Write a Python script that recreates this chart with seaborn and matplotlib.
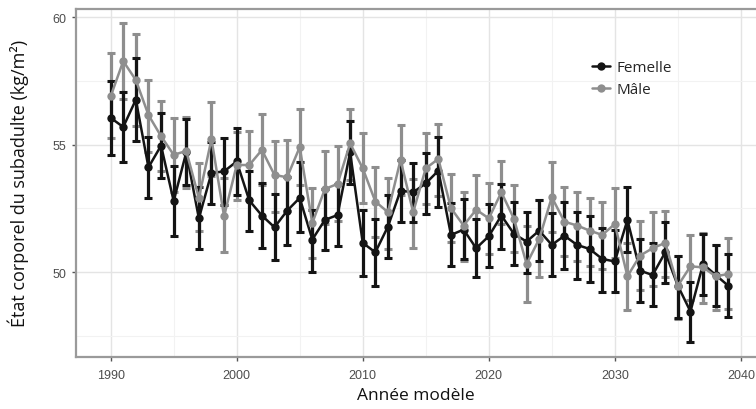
import numpy as np
import pandas as pd
import seaborn as sns
from matplotlib import pyplot as plt
from matplotlib.ticker import MultipleLocator

annees = list(range(1990, 2040))

femelle_moy = [56.05, 55.69, 56.76, 54.11, 54.96, 52.79, 54.70, 52.11, 53.89, 53.95,
               54.34, 52.81, 52.22, 51.76, 52.41, 52.91, 51.28, 52.05, 52.24, 54.70,
               51.15, 50.78, 51.79, 53.20, 53.13, 53.48, 53.98, 51.46, 51.67, 50.94,
               51.41, 52.22, 51.50, 51.20, 51.63, 51.07, 51.43, 51.07, 50.91, 50.52,
               50.42, 52.05, 50.06, 49.89, 50.78, 49.47, 48.46, 50.32, 49.89, 49.47]
femelle_bas = [54.60, 54.32, 55.13, 52.90, 53.69, 51.41, 53.40, 50.91, 52.67, 52.64,
               53.04, 51.60, 50.95, 50.48, 51.07, 51.56, 50.00, 50.87, 51.02, 53.46,
               49.87, 49.47, 50.55, 51.98, 51.96, 52.28, 52.57, 50.23, 50.50, 49.80,
               50.19, 50.91, 50.30, 49.97, 50.45, 49.84, 50.13, 49.74, 49.60, 49.24,
               49.24, 50.78, 48.82, 48.67, 49.57, 48.22, 47.28, 49.11, 48.69, 48.23]
femelle_haut = [57.48, 57.06, 58.39, 55.29, 56.23, 54.18, 56.00, 53.33, 55.12, 55.24,
                55.67, 53.98, 53.48, 53.07, 53.72, 54.31, 52.45, 53.26, 53.46, 55.94,
                52.44, 52.09, 53.04, 54.40, 54.28, 54.66, 55.29, 52.71, 52.87, 52.09,
                52.68, 53.46, 52.74, 52.37, 52.81, 52.32, 52.77, 52.35, 52.19, 51.72,
                51.67, 53.33, 51.30, 51.15, 51.98, 50.62, 49.60, 51.50, 51.07, 50.72]

male_moy = [56.89, 58.27, 57.53, 56.16, 55.33, 54.60, 54.75, 52.91, 55.22, 52.19,
            54.20, 54.20, 54.79, 53.81, 53.72, 54.90, 51.93, 53.26, 53.46, 55.05,
            54.07, 52.77, 52.35, 54.40, 52.35, 54.07, 54.44, 52.51, 51.83, 52.45,
            52.11, 53.13, 52.09, 50.32, 51.30, 52.94, 51.98, 51.83, 51.63, 51.46,
            51.89, 49.84, 50.65, 50.94, 51.15, 49.47, 50.23, 50.19, 49.84, 49.93]
male_bas = [55.26, 56.79, 55.71, 54.70, 53.98, 53.13, 53.30, 51.60, 53.76, 50.80,
            52.84, 52.81, 53.40, 52.37, 52.41, 53.40, 50.55, 51.90, 52.02, 53.60,
            52.70, 51.37, 50.91, 53.04, 50.94, 52.68, 53.00, 51.17, 50.45, 51.07,
            50.72, 51.89, 50.78, 48.85, 49.83, 51.56, 50.62, 50.42, 50.26, 50.13,
            50.55, 48.53, 49.32, 49.47, 49.80, 48.17, 48.91, 48.80, 48.53, 48.56]
male_haut = [58.58, 59.75, 59.35, 57.53, 56.70, 56.04, 56.10, 54.28, 56.68, 53.70,
             55.50, 55.52, 56.18, 55.16, 55.20, 56.40, 53.29, 54.74, 54.93, 56.40,
             55.44, 54.14, 53.69, 55.77, 53.65, 55.46, 55.81, 53.85, 53.16, 53.79,
             53.48, 54.37, 53.43, 51.80, 52.81, 54.33, 53.33, 53.16, 52.90, 52.77,
             53.30, 51.15, 52.00, 52.35, 52.41, 50.62, 51.46, 51.54, 51.07, 51.33]

couleurs = {"Femelle": "#141414", "Mâle": "#8e8e8e"}

df = pd.concat([
    pd.DataFrame({"annee": annees, "moy": femelle_moy, "bas": femelle_bas,
                  "haut": femelle_haut, "sexe": "Femelle"}),
    pd.DataFrame({"annee": annees, "moy": male_moy, "bas": male_bas,
                  "haut": male_haut, "sexe": "Mâle"}),
])

sns.set_theme(style="white")

fig = plt.figure(figsize=(7.56, 4.10), dpi=100)
ax = fig.add_axes([0.1005, 0.127, 0.8995, 0.849])

# barres d'erreur (gris dessous, noir dessus)
for sexe, z in [("Mâle", 2), ("Femelle", 3)]:
    d = df[df["sexe"] == sexe]
    ax.errorbar(d["annee"], d["moy"],
                yerr=[d["moy"] - d["bas"], d["haut"] - d["moy"]],
                fmt="none", ecolor=couleurs[sexe], elinewidth=2.3,
                capsize=3, capthick=2.2, zorder=z)

sns.lineplot(data=df, x="annee", y="moy", hue="sexe", palette=couleurs,
             hue_order=["Femelle", "Mâle"], marker="o", markersize=6,
             markeredgewidth=0, linewidth=1.8, ax=ax, zorder=4)

ax.set_xlim(1987.25, 2041.2)
ax.set_ylim(46.68, 60.32)
ax.xaxis.set_major_locator(MultipleLocator(10))
ax.xaxis.set_minor_locator(MultipleLocator(5))
ax.yaxis.set_major_locator(MultipleLocator(5))
ax.yaxis.set_minor_locator(MultipleLocator(2.5))
ax.grid(which="major", color="#e4e4e4", linewidth=1.0, zorder=0)
ax.grid(which="minor", color="#f2f2f2", linewidth=0.8, zorder=0)
ax.set_axisbelow(True)

for cote in ["left", "bottom", "top"]:
    ax.spines[cote].set_color("#9a9a9a")
    ax.spines[cote].set_linewidth(1.6)
ax.spines["right"].set_visible(False)

ax.tick_params(axis="both", which="major", length=3, width=1, color="#555555",
               labelcolor="#4d4d4d", labelsize=9, bottom=True, left=True)
ax.tick_params(axis="x", which="major", pad=6)
ax.tick_params(axis="y", which="major", pad=4)
ax.tick_params(axis="both", which="minor", length=0)
for lab in ax.get_xticklabels() + ax.get_yticklabels():
    lab.set_family(["Liberation Sans", "DejaVu Sans"])

ax.set_xlabel("Année modèle", fontsize=12.5, family=["Open Sans", "DejaVu Sans"],
              color="#111111", labelpad=4)
ax.set_ylabel("État corporel du subadulte (kg/m²)", fontsize=13,
              family=["Open Sans", "DejaVu Sans"], color="#111111", labelpad=17)

leg = ax.legend(title=None, loc="upper left", bbox_to_anchor=(0.75, 0.87),
                frameon=False, fontsize=11, handlelength=1.2, handletextpad=0.4,
                labelspacing=0.45, borderaxespad=0)
for t in leg.get_texts():
    t.set_family(["Open Sans", "DejaVu Sans"])

fig.savefig("out.png", dpi=100)
